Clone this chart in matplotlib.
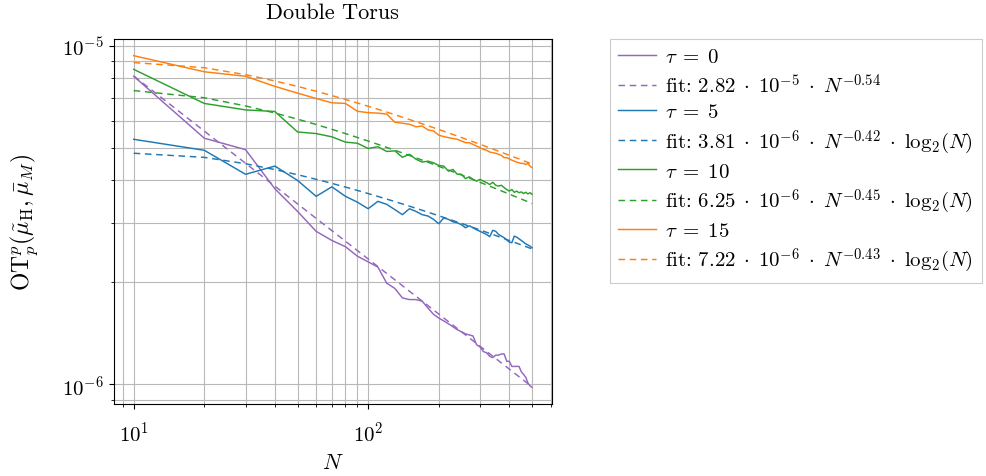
import numpy as np
import matplotlib
matplotlib.use('Agg')
import matplotlib.pyplot as plt
from matplotlib.ticker import LogLocator, NullFormatter

plt.rcParams['font.family'] = 'serif'
plt.rcParams['font.serif'] = ['cmr10']
plt.rcParams['mathtext.fontset'] = 'cm'
plt.rcParams['axes.formatter.use_mathtext'] = True

# sample sizes N = 10, 20, ..., 500
N = np.arange(10, 510, 10)

# values in units of 1e-6
tau0 = [8.12, 5.33, 4.93, 3.78, 3.24, 2.83, 2.66, 2.55, 2.39, 2.30,
        2.22, 1.99, 1.92, 1.80, 1.78, 1.78, 1.76, 1.68, 1.61, 1.57,
        1.54, 1.51, 1.48, 1.45, 1.43, 1.41, 1.40, 1.39, 1.31, 1.29,
        1.25, 1.24, 1.21, 1.20, 1.22, 1.22, 1.23, 1.23, 1.17, 1.17,
        1.13, 1.13, 1.13, 1.13, 1.09, 1.07, 1.05, 1.01, 0.99, 0.98]
tau5 = [5.29, 4.91, 4.17, 4.41, 4.00, 3.59, 3.83, 3.59, 3.45, 3.30,
        3.47, 3.40, 3.28, 3.17, 3.30, 3.24, 3.17, 3.14, 3.07, 2.98,
        3.10, 3.07, 3.02, 3.00, 2.96, 2.90, 2.94, 2.90, 2.86, 2.83,
        2.80, 2.77, 2.73, 2.85, 2.83, 2.77, 2.74, 2.71, 2.67, 2.63,
        2.62, 2.74, 2.72, 2.69, 2.66, 2.63, 2.60, 2.58, 2.56, 2.53]
tau10 = [8.51, 6.75, 6.46, 6.39, 5.56, 5.50, 5.38, 5.19, 5.15, 4.97,
         5.03, 4.87, 4.89, 4.68, 4.78, 4.62, 4.53, 4.56, 4.51, 4.43,
         4.41, 4.26, 4.31, 4.17, 4.17, 4.05, 4.10, 4.03, 3.98, 4.03,
         3.98, 3.94, 3.89, 3.95, 3.87, 3.85, 3.87, 3.81, 3.76, 3.72,
         3.76, 3.69, 3.72, 3.68, 3.70, 3.66, 3.69, 3.65, 3.68, 3.64]
tau15 = [9.34, 8.37, 8.12, 7.58, 7.24, 6.98, 6.78, 6.75, 6.40, 6.34,
         6.32, 6.28, 5.94, 5.90, 5.86, 5.76, 5.79, 5.64, 5.60, 5.44,
         5.39, 5.35, 5.32, 5.29, 5.23, 5.17, 5.17, 5.11, 5.05, 5.00,
         4.94, 4.91, 4.85, 4.83, 4.81, 4.78, 4.74, 4.67, 4.67, 4.63,
         4.59, 4.56, 4.53, 4.51, 4.49, 4.49, 4.46, 4.49, 4.41, 4.36]

taus = [0, 5, 10, 15]
colors = ['#9467bd', '#1f77b4', '#2ca02c', '#ff7f0e']

# fit parameters from the legend: c * N^a (* log2(N))
fit_c = [2.82e-5, 3.81e-6, 6.25e-6, 7.22e-6]
fit_a = [-0.54, -0.42, -0.45, -0.43]
fit_log = [False, True, True, True]
fit_labels = [r'fit: $2.82\;\cdot\;10^{-5}\;\cdot\;N^{-0.54}$',
              r'fit: $3.81\;\cdot\;10^{-6}\;\cdot\;N^{-0.42}\;\cdot\;\log_2\!(N)$',
              r'fit: $6.25\;\cdot\;10^{-6}\;\cdot\;N^{-0.45}\;\cdot\;\log_2\!(N)$',
              r'fit: $7.22\;\cdot\;10^{-6}\;\cdot\;N^{-0.43}\;\cdot\;\log_2\!(N)$']

fig = plt.figure(figsize=(9.86, 4.77), dpi=100)
ax = fig.add_axes([0.1154, 0.151, 0.4444, 0.765])

for tau, vals, col, c, a, lg, flab in zip(taus, [tau0, tau5, tau10, tau15], colors,
                                          fit_c, fit_a, fit_log, fit_labels):
    ax.plot(N, np.array(vals) * 1e-6, color=col, lw=1.05, label=r'$\tau\;=\;%d$' % tau)
    fit = c * N.astype(float) ** a
    if lg:
        fit = fit * np.log2(N)
    ax.plot(N, fit, color=col, lw=1.05, ls='--', dashes=(4.5, 3.2), label=flab)

ax.set_xscale('log')
ax.set_yscale('log')
ax.yaxis.set_minor_locator(LogLocator(subs=np.arange(2, 10)))
ax.yaxis.set_minor_formatter(NullFormatter())
ax.xaxis.set_minor_formatter(NullFormatter())
ax.grid(True, which='both', color='#b8b8b8', lw=0.8)
ax.set_axisbelow(True)
ax.tick_params(labelsize=15)
ax.tick_params(axis='x', pad=8)

ax.set_title('Double Torus', fontsize=16, pad=15)
ax.set_xlabel(r'$N$', fontsize=16, labelpad=6)
ax.set_ylabel(r'$\mathrm{OT}_p^p(\tilde{\mu}_\mathrm{H}, \bar{\mu}_M)$', fontsize=17,
              labelpad=16)

leg = ax.legend(loc='upper left', bbox_to_anchor=(610 / 986, 1 - 40 / 477),
                bbox_transform=fig.transFigure, borderaxespad=0, fontsize=15,
                fancybox=False, edgecolor='#cccccc', framealpha=1,
                handletextpad=0.45, handlelength=1.8, labelspacing=0.3)
leg.get_frame().set_linewidth(0.8)

fig.savefig('out.png', dpi=100)
